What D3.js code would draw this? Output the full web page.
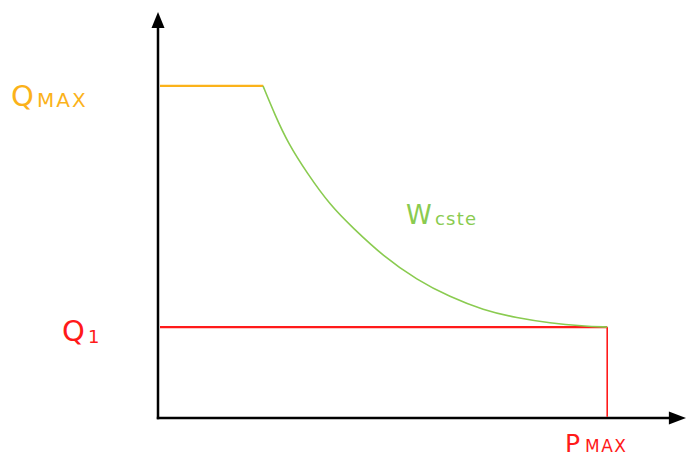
<!DOCTYPE html>
<html><head><meta charset="utf-8">
<script src="https://cdn.jsdelivr.net/npm/d3@7"></script>
<style>body{margin:0;background:#fff}svg{display:block}</style>
</head><body>
<script>
// data (abstract units: P along x, Q along y)
const pStart = 20, pMax = 85.4, qMax = 82.2, q1 = 22.5;
const curveP = [19.96, 22.24, 24.71, 28.33, 32.70, 37.07, 42.78, 49.24, 55.51, 61.79, 68.25, 74.52, 80.80, 85.4];
const curveQ = [82.2, 75.0, 68.07, 60.64, 52.72, 47.03, 40.10, 34.16, 29.95, 26.73, 24.75, 23.51, 22.77, 22.5];
const labels = {qmax:["Q","MAX"], q1:["Q","1"], pmax:["P","MAX"], w:["W","cste"]};

const W = 686, H = 459;
const svg = d3.select("body").append("svg").attr("width", W).attr("height", H);
const x = d3.scaleLinear().domain([0, 100]).range([158, 684]);
const y = d3.scaleLinear().domain([0, 100]).range([418, 14]);
const orange = "#FBB21A", green = "#8ACB50", red = "#FF1A1A";
const font = "'DejaVu Sans', sans-serif";

// axes
svg.append("line").attr("x1", x(0)).attr("x2", x(0)).attr("y1", y(0)+1.2).attr("y2", y(97)).attr("stroke","#000").attr("stroke-width",2.5);
svg.append("line").attr("x1", x(0)-1.2).attr("x2", x(97.5)).attr("y1", y(0)).attr("y2", y(0)).attr("stroke","#000").attr("stroke-width",2.5);
svg.append("path").attr("d", `M${x(0)},${y(100)-2} L${x(0)-6.5},${y(97)+2} L${x(0)+6.5},${y(97)+2}Z`).attr("fill","#000");
svg.append("path").attr("d", `M${x(100)+2},${y(0)} L${x(97.5)-2},${y(0)-6.5} L${x(97.5)-2},${y(0)+6.5}Z`).attr("fill","#000");

// orange segment
svg.append("line").attr("x1", x(0)+2).attr("x2", x(pStart)).attr("y1", y(qMax)).attr("y2", y(qMax)).attr("stroke",orange).attr("stroke-width",2.2);
// red segments
svg.append("line").attr("x1", x(0)+2).attr("x2", x(pMax)).attr("y1", y(q1)).attr("y2", y(q1)).attr("stroke",red).attr("stroke-width",2.2);
svg.append("line").attr("x1", x(pMax)).attr("x2", x(pMax)).attr("y1", y(q1)).attr("y2", y(0)-1.2).attr("stroke",red).attr("stroke-width",1.6);
// green curve
const pts = curveP.map((p,i)=>[p, curveQ[i]]);
svg.append("path").attr("d", d3.line().x(d=>x(d[0])).y(d=>y(d[1])).curve(d3.curveBasis)(pts))
  .attr("fill","none").attr("stroke",green).attr("stroke-width",1.6);

function lab(px, py, px2, py2, parts, color, big, small, ls) {
  const t = svg.append("text").attr("fill", color).attr("font-family", font);
  t.append("tspan").attr("x", px).attr("y", py).attr("font-size", big).text(parts[0]);
  t.append("tspan").attr("x", px2).attr("y", py2).attr("font-size", small).attr("letter-spacing", ls).text(parts[1]);
}
lab(11, 106, 37, 107, labels.qmax, orange, 29, 20, 2);
lab(62, 341, 88, 343, labels.q1, red, 29, 18, 0);
lab(565, 452, 585, 452, labels.pmax, red, 25, 17, 1.5);
lab(406, 224, 435, 225, labels.w, green, 26, 18, 1.2);
</script>
</body></html>
